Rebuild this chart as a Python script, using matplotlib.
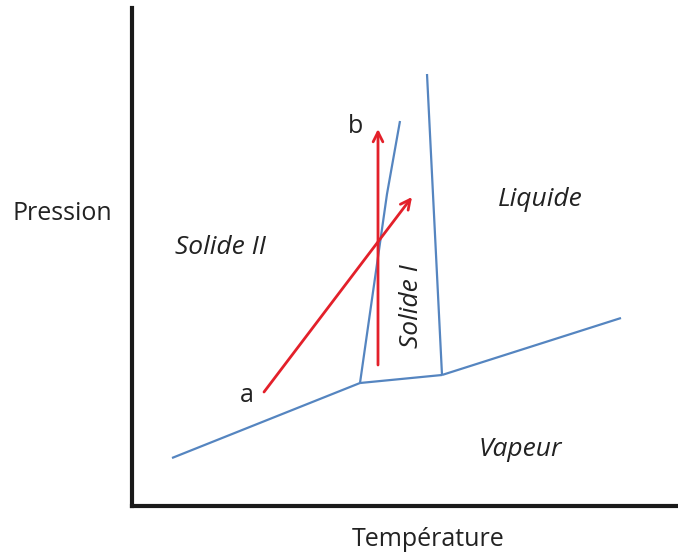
import matplotlib
matplotlib.use("Agg")
import matplotlib.pyplot as plt

# Data in arbitrary diagram units (Temperature, Pressure)
sub_T = [40, 228]
sub_P = [48, 123]
s2s1_T = [228, 255, 268]
s2s1_P = [123, 312, 385]
s1v_T = [228, 310]
s1v_P = [123, 131]
s1l_T = [310, 295]
s1l_P = [131, 432]
lv_T = [310, 489]
lv_P = [131, 188]
arrow_a = [(132, 114), (280, 309)]
arrow_b = [(246, 141), (246, 377)]

W, H = 678, 558
fig = plt.figure(figsize=(W/100, H/100), dpi=100)
left, bottom, right, top = 132, 506, 676, 8
ax = fig.add_axes([left/W, 1-bottom/H, (right-left)/W, (bottom-top)/H])
ax.set_xlim(0, right-left)
ax.set_ylim(0, bottom-top)
for s in ['top', 'right']:
    ax.spines[s].set_visible(False)
for s in ['left', 'bottom']:
    ax.spines[s].set_linewidth(3)
    ax.spines[s].set_color('#1a1a1a')
ax.set_xticks([]); ax.set_yticks([])

blue = '#5585C0'
red = '#E3202A'
for T, P in [(sub_T, sub_P), (s2s1_T, s2s1_P), (s1v_T, s1v_P), (s1l_T, s1l_P), (lv_T, lv_P)]:
    ax.plot(T, P, color=blue, lw=1.6, solid_capstyle='butt')

for (x0, y0), (x1, y1) in [arrow_a, arrow_b]:
    ax.annotate('', xy=(x1, y1), xytext=(x0, y0),
                arrowprops=dict(arrowstyle='->,head_length=0.7,head_width=0.35',
                                color=red, lw=2, shrinkA=0, shrinkB=0))

font = 'Open Sans'
tc = '#222222'
fs = 18
fsi = 19
ax.text(356-left, bottom-126, 'b', fontsize=fs, family=font, color=tc, ha='center', va='center')
ax.text(247-left, bottom-395, 'a', fontsize=fs, family=font, color=tc, ha='center', va='center')
ax.text(220-left, bottom-247, 'Solide II', fontsize=fsi, family=font, style='italic', color=tc, ha='center', va='center')
ax.text(540-left, bottom-199, 'Liquide', fontsize=fsi, family=font, style='italic', color=tc, ha='center', va='center')
ax.text(412-left, bottom-306, 'Solide I', fontsize=fsi, family=font, style='italic', color=tc, ha='center', va='center', rotation=90)
ax.text(520-left, bottom-449, 'Vapeur', fontsize=fsi, family=font, style='italic', color=tc, ha='center', va='center')

fig.text(62/W, 1-214/H, 'Pression', fontsize=fs, family=font, color=tc, ha='center', va='center')
fig.text(428/W, 1-539/H, 'Température', fontsize=fs, family=font, color=tc, ha='center', va='center')

fig.savefig('out.png', dpi=100)
